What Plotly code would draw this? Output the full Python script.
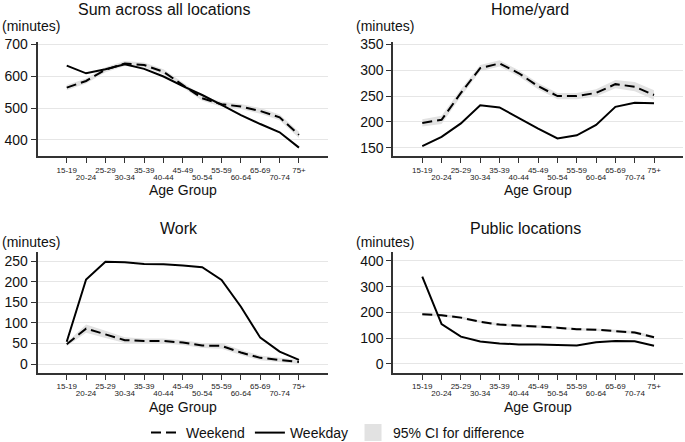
import plotly.graph_objects as go

age_groups = ["15-19", "20-24", "25-29", "30-34", "35-39", "40-44", "45-49",
              "50-54", "55-59", "60-64", "65-69", "70-74", "75+"]

# Sum across all locations
sum_weekday = [633, 609, 622, 637, 623, 599, 569, 541, 510, 478, 450, 424, 376]
sum_weekend = [564, 585, 620, 640, 635, 614, 572, 531, 512, 505, 491, 471, 416]
sum_ci = [8, 8, 8, 8, 8, 8, 8, 8, 8, 8, 9, 9, 10]

# Home/yard
home_weekday = [153, 171, 197, 232, 228, 207, 187, 168, 174, 194, 229, 237, 236]
home_weekend = [198, 204, 256, 304, 313, 294, 269, 250, 250, 256, 273, 268, 252]
home_ci = [7, 8, 7, 6, 6, 6, 6, 6, 6, 7, 8, 9, 9]

# Work
work_weekday = [54, 205, 248, 247, 243, 242, 239, 235, 204, 139, 64, 30, 10]
work_weekend = [48, 86, 72, 58, 56, 56, 52, 45, 44, 28, 15, 10, 5]
work_ci = [5, 10, 9, 7, 6, 6, 6, 6, 7, 6, 6, 5, 5]

# Public locations
pub_weekday = [339, 155, 106, 87, 80, 76, 76, 74, 72, 84, 89, 88, 71]
pub_weekend = [193, 189, 180, 164, 153, 148, 145, 141, 135, 133, 127, 122, 104]
pub_ci = [5, 5, 5, 5, 5, 5, 5, 5, 5, 5, 5, 6, 6]

titles = ["Sum across all locations", "Home/yard", "Work", "Public locations"]
y_ranges = [[349.8, 707.2], [134, 354.5], [-21, 272.6], [-33.8, 436]]
y_ticks = [[400, 500, 600, 700], [150, 200, 250, 300, 350],
           [0, 50, 100, 150, 200, 250], [0, 100, 200, 300, 400]]

panels = [
    (sum_weekday, sum_weekend, sum_ci),
    (home_weekday, home_weekend, home_ci),
    (work_weekday, work_weekend, work_ci),
    (pub_weekday, pub_weekend, pub_ci),
]

W, H = 685, 442
FONT = "Liberation Sans, Arial, Helvetica, sans-serif"
CI_COLOR = "#e2e2e2"
AXIS_COLOR = "#333333"

# panel pixel boxes: left, right, top, bottom
boxes = [(37.7, 328, 42, 156), (393.3, 683, 42, 156),
         (37.7, 328, 251.7, 372.7), (393.3, 683, 251.7, 372.7)]
title_pos = [(164, 9), (530, 9), (179, 228), (525, 228)]
minutes_pos = [(0, 26), (354, 26), (0, 242), (354, 242)]

xs = list(range(len(age_groups)))
even_text = [g if i % 2 == 0 else "" for i, g in enumerate(age_groups)]
odd_vals = [i for i in xs if i % 2 == 1]
odd_text = [age_groups[i] for i in odd_vals]

fig = go.Figure()
layout = dict(width=W, height=H, autosize=False,
              margin=dict(l=0, r=0, t=0, b=0, autoexpand=False),
              paper_bgcolor="white", plot_bgcolor="white",
              font=dict(family=FONT, color="#111111"),
              showlegend=True)
annotations = []

for k, (wd, we, ci) in enumerate(panels):
    ax = "" if k == 0 else str(k + 1)
    xa, ya = "x" + ax, "y" + ax
    xb = "x" + str(k + 5)
    upper = [v + c for v, c in zip(we, ci)]
    lower = [v - c for v, c in zip(we, ci)]
    fig.add_trace(go.Scatter(
        x=xs + xs[::-1], y=upper + lower[::-1], fill="toself",
        fillcolor=CI_COLOR, line=dict(width=0, color=CI_COLOR),
        mode="lines", name="95% CI for difference",
        showlegend=False, hoverinfo="skip", xaxis=xa, yaxis=ya))
    fig.add_trace(go.Scatter(
        x=xs, y=we, mode="lines", name="Weekend", legendrank=1,
        line=dict(color="black", width=2, dash="10px,5px"),
        showlegend=(k == 0), xaxis=xa, yaxis=ya))
    fig.add_trace(go.Scatter(
        x=xs, y=wd, mode="lines", name="Weekday", legendrank=2,
        line=dict(color="black", width=2),
        showlegend=(k == 0), xaxis=xa, yaxis=ya))
    # empty trace so the overlaid second-row label axis is drawn
    fig.add_trace(go.Scatter(x=[None], y=[None], mode="lines", showlegend=False,
                             hoverinfo="skip", xaxis=xb, yaxis=ya))

    l, r, t, b = boxes[k]
    dom = [l / W, r / W]
    layout["xaxis" + ax] = dict(
        domain=dom, range=[-1.5, 13.5], anchor=ya,
        tickvals=xs, ticktext=even_text, tickangle=0, ticks="outside", ticklen=5,
        tickwidth=1.3, tickcolor=AXIS_COLOR, showline=True, linecolor=AXIS_COLOR,
        linewidth=2, showgrid=False, zeroline=False,
        tickfont=dict(size=8, family=FONT, color="#222222"), fixedrange=True)
    # second row of staggered labels
    layout["xaxis" + str(k + 5)] = dict(
        domain=dom, range=[-1.5, 13.5], anchor=ya, overlaying=xa, side="bottom",
        tickvals=odd_vals, ticktext=odd_text, tickangle=0, ticks="outside",
        ticklen=5, tickwidth=1.3, tickcolor=AXIS_COLOR, ticklabelstandoff=8,
        showline=False, showgrid=False, zeroline=False,
        tickfont=dict(size=8, family=FONT, color="#222222"), fixedrange=True)
    layout["yaxis" + ax] = dict(
        domain=[1 - b / H, 1 - t / H], range=y_ranges[k], anchor=xa,
        tickvals=y_ticks[k], ticks="outside", ticklen=5, tickwidth=1.3,
        tickcolor=AXIS_COLOR, showline=True, linecolor=AXIS_COLOR, linewidth=2,
        showgrid=True, gridcolor="#e6e6e6", gridwidth=1.3, zeroline=False,
        tickfont=dict(size=14, family=FONT, color="#111111"), fixedrange=True)

    tx, ty = title_pos[k]
    annotations.append(dict(text=titles[k], x=tx / W, y=1 - ty / H, xref="paper",
                            yref="paper", xanchor="center", yanchor="middle",
                            showarrow=False, font=dict(size=16, family=FONT)))
    mx, my = minutes_pos[k]
    annotations.append(dict(text="(minutes)", x=mx / W, y=1 - my / H, xref="paper",
                            yref="paper", xanchor="left", yanchor="middle",
                            showarrow=False, font=dict(size=14, family=FONT)))
    annotations.append(dict(text="Age Group", x=(l + r) / 2 / W, y=1 - (b + 34) / H,
                            xref="paper", yref="paper", xanchor="center",
                            yanchor="middle", showarrow=False,
                            font=dict(size=14, family=FONT)))

# legend-only entry for the CI band (square swatch)
fig.add_trace(go.Bar(x=[None], y=[None], name="95% CI for difference",
                     legendrank=3, marker=dict(color=CI_COLOR,
                     line=dict(color=CI_COLOR, width=7)),
                     showlegend=True, hoverinfo="skip"))

layout["annotations"] = annotations
layout["legend"] = dict(orientation="h", x=338 / W, xanchor="center",
                        y=1 - 433 / H, yanchor="middle",
                        font=dict(size=14, family=FONT), bgcolor="rgba(0,0,0,0)",
                        itemwidth=30, traceorder="normal")
fig.update_layout(**layout)
fig.write_html("out.html", config=dict(displayModeBar=False),
               post_script="document.body.style.margin='0';"
                           "document.body.style.overflow='hidden';")
